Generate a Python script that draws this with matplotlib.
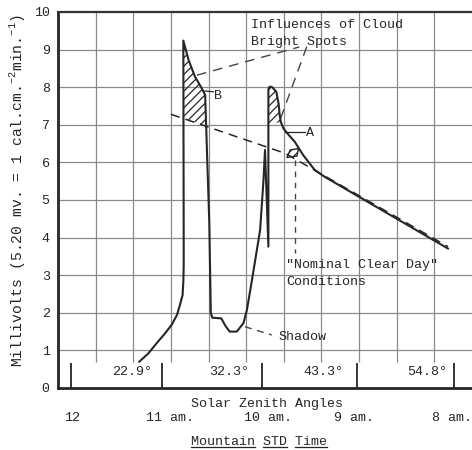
import numpy as np
import matplotlib
matplotlib.use('Agg')
import matplotlib.pyplot as plt
from matplotlib.patches import Polygon
from matplotlib.lines import Line2D

plt.rcParams['font.family'] = ['Liberation Mono', 'DejaVu Sans Mono']
plt.rcParams['mathtext.fontset'] = 'custom'
plt.rcParams['mathtext.rm'] = 'Liberation Mono'
plt.rcParams['hatch.linewidth'] = 0.9

# recorder trace (grid units across, millivolts up)
trace_x = [2.16, 2.40, 2.62, 2.85, 3.02, 3.16, 3.24, 3.31, 3.33, 3.34, 3.34,
           3.33, 3.47, 3.64, 3.82, 3.91, 3.94,
           4.02, 4.06, 4.10, 4.34, 4.45, 4.56, 4.75, 4.93, 5.02, 5.11, 5.24, 5.37,
           5.46, 5.50, 5.59, 5.59, 5.62, 5.68, 5.80, 5.86, 5.89, 5.92, 5.99, 6.13,
           6.29, 6.51, 6.82, 7.08, 10.36]
trace_y = [0.70, 0.92, 1.19, 1.46, 1.68, 1.94, 2.21, 2.47, 2.83, 3.27, 3.80,
           9.24, 8.72, 8.28, 7.97, 7.79, 6.86,
           4.40, 2.00, 1.87, 1.85, 1.65, 1.50, 1.50, 1.73, 2.08, 2.61, 3.40, 4.20,
           5.53, 6.33, 3.76, 7.95, 8.01, 8.01, 7.88, 7.57, 7.26, 7.08, 6.90, 6.73,
           6.55, 6.20, 5.80, 5.62, 3.71]

# "nominal clear day" dashed line
clear_x = [3.00, 6.04, 10.36]
clear_y = [7.28, 6.24, 3.76]

# cloud bright spot pointers
spot1_x = [3.69, 6.41]
spot1_y = [8.32, 9.07]
spot2_x = [6.61, 5.90]
spot2_y = [9.08, 7.13]

# hatched areas
hatch_b = [(3.33, 9.24), (3.47, 8.72), (3.64, 8.28), (3.82, 7.97), (3.91, 7.79),
           (3.93, 6.96), (3.33, 7.17)]
hatch_a = [(5.59, 8.0), (5.62, 8.01), (5.68, 8.01), (5.80, 7.88), (5.86, 7.57),
           (5.89, 7.26), (5.92, 7.08), (5.59, 7.0)]
hatch_small = [(6.08, 6.13), (6.17, 6.33), (6.39, 6.37), (6.35, 6.17)]

# hour marks, zenith angles, times
hour_pos = [0.35, 2.77, 5.43, 7.95, 10.53]
zenith_pos = [1.97, 4.55, 7.04, 9.81]
zenith_labels = ['22.9°', '32.3°', '43.3°', '54.8°']
time_pos = [0.37, 2.98, 5.59, 7.86, 10.46]
time_labels = ['12', '11 am.', '10 am.', '9 am.', '8 am.']
yticks = list(range(0, 11))

ink = '#262626'
gridc = '#8a8a8a'

fig = plt.figure(figsize=(4.72, 4.5), dpi=100)
ax = fig.add_axes([58/472, 1-388/450, 414/472, 376/450])
ax.set_xlim(0, 11)
ax.set_ylim(0, 10)

# grid
ax.hlines(range(1, 10), 0, 11, color=gridc, lw=0.9, zorder=1)
ax.vlines(range(1, 11), 0.7, 10, color=gridc, lw=0.9, zorder=1)
ax.vlines(hour_pos, 0, 0.67, color=ink, lw=1.3, zorder=2)

ax.plot(trace_x, trace_y, color=ink, lw=1.5, zorder=4)
ax.plot(clear_x, clear_y, color=ink, lw=1.1, dashes=(6, 4), zorder=3)
ax.plot(spot1_x, spot1_y, color='#444444', lw=1.0, dashes=(7, 5), zorder=3)
ax.plot(spot2_x, spot2_y, color='#444444', lw=1.0, dashes=(7, 5), zorder=3)
ax.plot([6.31, 6.31], [6.06, 3.59], color='#444444', lw=1.0, dashes=(4, 4), zorder=3)
ax.plot([4.97, 5.68], [1.63, 1.41], color='#444444', lw=1.0, dashes=(5, 4), zorder=3)

for pts in [hatch_b, hatch_a]:
    ax.add_patch(Polygon(pts, closed=True, fill=False, lw=0, edgecolor=ink,
                         hatch='////', zorder=3))
ax.add_patch(Polygon(hatch_small, closed=True, fill=False, lw=1.0, edgecolor=ink,
                     hatch='////', zorder=3))

# labels A / B
ax.plot([3.87, 4.13], [7.90, 7.88], color=ink, lw=0.9)
ax.text(4.26, 7.77, 'B', fontsize=9.6, color=ink, ha='center', va='center')
ax.plot([6.04, 6.57], [6.82, 6.82], color=ink, lw=0.9)
ax.text(6.70, 6.77, 'A', fontsize=9.6, color=ink, ha='center', va='center')

ax.text(5.13, 9.65, 'Influences of Cloud', fontsize=9.6, color=ink, va='center')
ax.text(5.13, 9.20, 'Bright Spots', fontsize=9.6, color=ink, va='center')
ax.text(6.06, 3.27, '"Nominal Clear Day"', fontsize=9.6, color=ink, va='center')
ax.text(6.06, 2.82, 'Conditions', fontsize=9.6, color=ink, va='center')
ax.text(5.85, 1.36, 'Shadow', fontsize=9.6, color=ink, va='center')

for xp, lab in zip(zenith_pos, zenith_labels):
    ax.text(xp, 0.43, lab, fontsize=9.6, color=ink, ha='center', va='center')

ax.text(5.56, -0.43, 'Solar Zenith Angles', fontsize=9.6, color=ink,
        ha='center', va='center', clip_on=False)
for xp, lab in zip(time_pos, time_labels):
    ax.text(xp, -0.80, lab, fontsize=9.6, color=ink, ha='center', va='center',
            clip_on=False)
mtn = ax.text(5.35, -1.44, 'Mountain STD Time', fontsize=9.6, color=ink,
              ha='center', va='center', clip_on=False)

# axes frame
for side in ['left', 'bottom']:
    ax.spines[side].set_linewidth(2.0)
    ax.spines[side].set_color(ink)
ax.spines['top'].set_linewidth(1.6)
ax.spines['top'].set_color('#333333')
ax.spines['right'].set_visible(False)

ax.set_xticks([])
ax.set_yticks(yticks)
ax.tick_params(axis='y', length=0, pad=6, labelsize=9.6, labelcolor=ink)
ax.set_ylabel('Millivolts (5.20 mv. = 1 cal.cm.$^{-2}$min.$^{-1}$)',
              fontsize=10.6, color=ink)
ax.yaxis.set_label_coords(-0.073, 0.525)

# underline each word of the time caption
fig.canvas.draw()
bb = mtn.get_window_extent()
cw = bb.width / len('Mountain STD Time')
yline = bb.y0 + 0.12 * bb.height
for start, n in [(0, 8), (9, 3), (13, 4)]:
    x0 = bb.x0 + start * cw
    x1 = x0 + n * cw
    fig.add_artist(Line2D([x0 / fig.bbox.width, x1 / fig.bbox.width],
                          [yline / fig.bbox.height, yline / fig.bbox.height],
                          color=ink, lw=0.9))

fig.savefig('out.png', dpi=100, facecolor='white')
